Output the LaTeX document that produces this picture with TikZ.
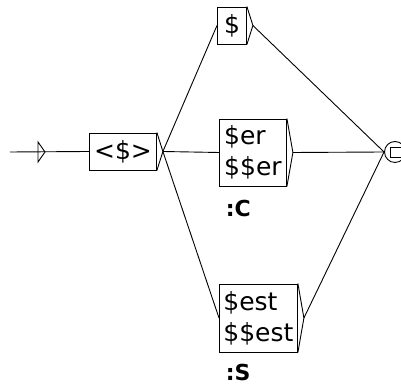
\documentclass[tikz,border=0pt]{standalone}
\usepackage{fontspec}
\setmainfont{DejaVu Sans}
\usepackage{tikz}

\begin{document}
\begin{tikzpicture}[x=1pt, y=1pt, line width=0.9pt,
        box/.style={draw, rectangle, align=left, anchor=west, inner sep=1pt,
                    font=\fontsize{25}{31}\selectfont},
        outlbl/.style={anchor=west, font=\bfseries\fontsize{22}{24}\selectfont}]
                \useasboundingbox (0,0) rectangle (401,387);

                % Initial state
                \coordinate (start) at (10,235);
                \coordinate (itri) at (38,235);
                \draw (itri) ++(0,10) -- ++(7,-10) -- ++(-7,-10) -- cycle;

                % Boxes
                \node[box, minimum width=67pt, minimum height=37pt] (B0) at (89,235.5) {<\$>};
                \node[box, minimum width=29pt, minimum height=37pt] (B1) at (217,361.5) {\$};
                \node[box, minimum width=67pt, minimum height=67pt] (B2) at (219,234.5) {\$er\\\$\$er};
                \node[box, minimum width=78pt, minimum height=68pt] (B3) at (219,69) {\$est\\\$\$est};

                % Outputs
                \node[outlbl] (C) at (B2.south west) [yshift=-22pt, xshift=3pt] {:C};
                \node[outlbl] (S) at (B3.south west) [yshift=-20pt, xshift=3pt] {:S};

                % Triangles at the right of each box
                \foreach \b in {B0,B1,B2,B3} {
                    \coordinate (\b t) at ([xshift=6pt]\b.east);
                    \draw (\b.north east) -- (\b t) -- (\b.south east);
                }

                % Final state
                \node[circle, draw, minimum size=21pt, inner sep=0pt] (fin) at (395,235) {};
                \draw (390,230) rectangle (401,240);

                % Transitions
                \draw (start) -- (B0.west);
                \draw (B0t) -- (B1.west);
                \draw (B0t) -- (B2.west);
                \draw (B0t) -- (B3.west);
                \draw (B1t) -- (fin.west);
                \draw (B2t) -- (fin.west);
                \draw (B3t) -- (fin.west);
\end{tikzpicture}
\end{document}
